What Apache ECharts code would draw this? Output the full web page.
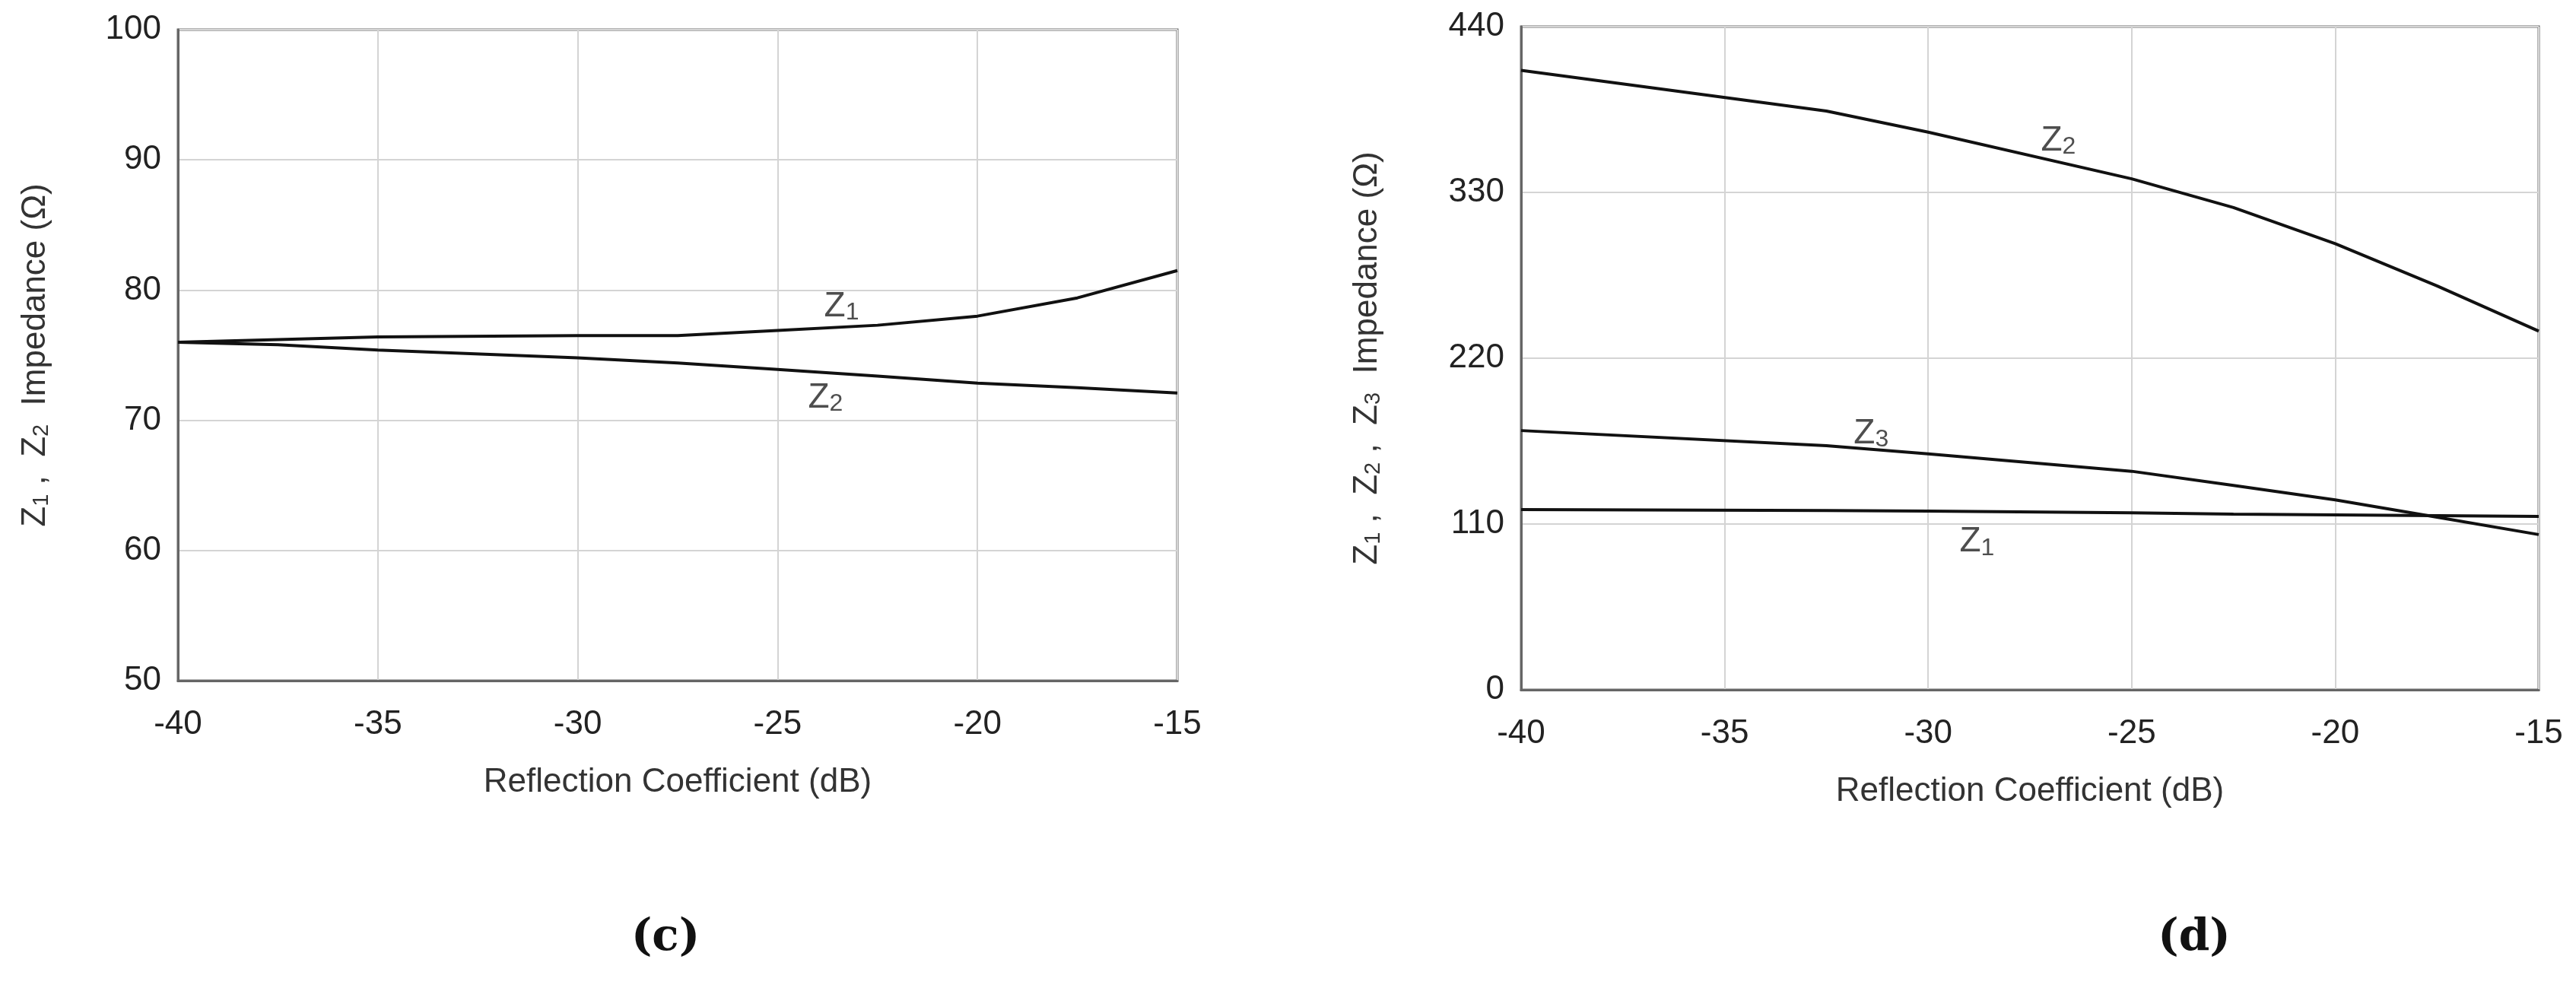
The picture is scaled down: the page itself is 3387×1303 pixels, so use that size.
<!DOCTYPE html>
<html>
<head>
<meta charset="utf-8">
<title>Impedance vs Reflection Coefficient</title>
<script src="https://cdn.jsdelivr.net/npm/echarts@6/dist/echarts.min.js"></script>
<style>
  body { margin: 0; background: #fff; }
  #chart { width: 3387px; height: 1303px; }
</style>
</head>
<body>
<div id="chart"></div>
<script>
// panel (c)
var xC = [-40, -37.5, -35, -30, -27.5, -25, -22.5, -20, -17.5, -15];
var z1C = [76, 76.2, 76.4, 76.5, 76.5, 76.9, 77.3, 78.0, 79.4, 81.5];
var z2C = [76, 75.8, 75.4, 74.8, 74.4, 73.9, 73.4, 72.85, 72.5, 72.1];
// panel (d)
var xD = [-40, -32.5, -30, -25, -22.5, -20, -17.5, -15];
var z2D = [411, 384, 370, 339, 320, 296, 268, 238];
var z3D = [172, 162, 156.6, 145, 135.6, 126, 114.5, 103];
var z1D = [119.6, 119, 118.6, 117.5, 116.6, 116, 115.5, 115];
// curve labels: [x, y, name, subscript]
var tagsC = [[-23.4, 78.7, 'Z', '1'], [-23.8, 71.7, 'Z', '2']];
var tagsD = [[-26.8, 364, 'Z', '2'], [-31.4, 170, 'Z', '3'], [-28.8, 98, 'Z', '1']];

function pairs(xs, ys) {
    return xs.map(function (x, i) { return [x, ys[i]]; });
}

var font = 'Liberation Sans, Arial, sans-serif';
var rich = {
    n: { fontSize: 46, fontFamily: font, color: '#222' },
    s: { fontSize: 32, fontFamily: font, color: '#222', verticalAlign: 'bottom', padding: [16, 0, 0, 0] }
};

function tagSeries(idx, tags) {
    return {
        type: 'scatter', xAxisIndex: idx, yAxisIndex: idx,
        symbolSize: 1, itemStyle: { color: 'rgba(0,0,0,0)' },
        data: tags.map(function (t) { return { value: [t[0], t[1]], tag: t[2], sub: t[3] }; }),
        label: {
            show: true, position: 'inside',
            formatter: function (p) { return '{n|' + p.data.tag + '}{s|' + p.data.sub + '}'; },
            rich: rich
        },
        silent: true
    };
}

function xAxis(idx) {
    return {
        type: 'value', gridIndex: idx, min: -40, max: -15, interval: 5,
        name: 'Reflection Coefficient (dB)', nameLocation: 'middle', nameGap: 112,
        nameTextStyle: { fontSize: 44, fontFamily: font, color: '#333' },
        axisLine: { lineStyle: { color: '#666', width: 3 } },
        axisTick: { show: false },
        axisLabel: { fontSize: 44, fontFamily: font, color: '#222', margin: 36 },
        splitLine: { lineStyle: { color: '#d4d4d4', width: 2 } }
    };
}

function yAxis(idx, min, max, step, name, gap) {
    return {
        type: 'value', gridIndex: idx, min: min, max: max, interval: step,
        name: name, nameLocation: 'middle', nameGap: gap, nameRotate: 90,
        nameTextStyle: {
            fontSize: 44, fontFamily: font, color: '#333',
            rich: {
                n: { fontSize: 44, fontFamily: font, color: '#333' },
                s: { fontSize: 29, fontFamily: font, color: '#333', verticalAlign: 'bottom', padding: [14, 0, 0, 0] }
            }
        },
        axisLine: { show: true, lineStyle: { color: '#666', width: 3 } },
        axisTick: { show: false },
        axisLabel: { fontSize: 44, fontFamily: font, color: '#222', margin: 22 },
        splitLine: { lineStyle: { color: '#d4d4d4', width: 2 } }
    };
}

var lineStyle = { color: '#111', width: 4 };

var option = {
    backgroundColor: '#fff',
    animation: false,
    grid: [
        { left: 234, right: 1839, top: 39, bottom: 408, show: true, borderColor: '#666', borderWidth: 3 },
        { left: 2000, right: 49, top: 35, bottom: 396, show: true, borderColor: '#666', borderWidth: 3 }
    ],
    xAxis: [xAxis(0), xAxis(1)],
    yAxis: [
        yAxis(0, 50, 100, 10, '{n|Z}{s|1}{n| ,  Z}{s|2}{n|  Impedance (Ω)}', 165),
        yAxis(1, 0, 440, 110, '{n|Z}{s|1}{n| ,  Z}{s|2}{n| ,  Z}{s|3}{n|  Impedance (Ω)}', 180)
    ],
    title: [
        { text: '(c)', left: 870, top: 1200, textAlign: 'center',
          textStyle: { fontSize: 58, fontFamily: 'DejaVu Serif, serif', fontWeight: 'bold', color: '#111' } },
        { text: '(d)', left: 2880, top: 1200, textAlign: 'center',
          textStyle: { fontSize: 58, fontFamily: 'DejaVu Serif, serif', fontWeight: 'bold', color: '#111' } }
    ],
    series: [
        { type: 'line', xAxisIndex: 0, yAxisIndex: 0, data: pairs(xC, z1C), showSymbol: false, lineStyle: lineStyle },
        { type: 'line', xAxisIndex: 0, yAxisIndex: 0, data: pairs(xC, z2C), showSymbol: false, lineStyle: lineStyle },
        { type: 'line', xAxisIndex: 1, yAxisIndex: 1, data: pairs(xD, z2D), showSymbol: false, lineStyle: lineStyle },
        { type: 'line', xAxisIndex: 1, yAxisIndex: 1, data: pairs(xD, z3D), showSymbol: false, lineStyle: lineStyle },
        { type: 'line', xAxisIndex: 1, yAxisIndex: 1, data: pairs(xD, z1D), showSymbol: false, lineStyle: lineStyle },
        tagSeries(0, tagsC),
        tagSeries(1, tagsD)
    ]
};

var chart = echarts.init(document.getElementById('chart'));
chart.setOption(option);
</script>
</body>
</html>
